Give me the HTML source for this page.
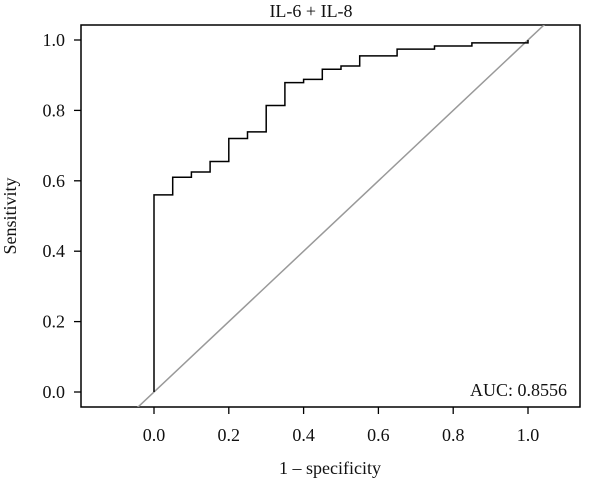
<!DOCTYPE html>
<html><head><meta charset="utf-8"><style>
body{margin:0;background:#fff;}
svg text{font-family:"Liberation Serif",serif;fill:#111;}
</style></head><body>
<svg width="600" height="486" viewBox="0 0 600 486">
<defs><clipPath id="pc"><rect x="81" y="25" width="499" height="382"/></clipPath></defs>
<text x="311" y="17" font-size="18" text-anchor="middle">IL-6 + IL-8</text>
<rect x="81" y="25" width="499" height="382" fill="none" stroke="#000" stroke-width="1.5"/>
<g id="axes"></g>
<line id="diag" stroke="#999" stroke-width="1.5" clip-path="url(#pc)"/>
<path id="roc" fill="none" stroke="#000" stroke-width="1.5"/>
<text x="567" y="392" font-size="18" text-anchor="end" dominant-baseline="middle">AUC: 0.8556</text>
<text x="330" y="474" font-size="18" text-anchor="middle">1 – specificity</text>
<text transform="translate(16,216) rotate(-90)" font-size="18" text-anchor="middle">Sensitivity</text>
</svg>
<script>
const fprSteps=[0,0.05,0.1,0.15,0.2,0.25,0.3,0.35,0.4,0.45,0.5,0.55,0.65,0.75,0.85,1.0];
const tprLevels=[0.56,0.61,0.625,0.655,0.72,0.739,0.814,0.879,0.888,0.917,0.926,0.955,0.974,0.983,0.992,1.0];
const xTicks=[0,0.2,0.4,0.6,0.8,1.0];
const yTicks=[0,0.2,0.4,0.6,0.8,1.0];
const xTickLabels=["0.0","0.2","0.4","0.6","0.8","1.0"];
const yTickLabels=["0.0","0.2","0.4","0.6","0.8","1.0"];
const X=v=>154+v*374, Y=v=>392-v*352;
const ns="http://www.w3.org/2000/svg";
const ax=document.getElementById('axes');
xTicks.forEach((t,i)=>{
  const l=document.createElementNS(ns,'line');
  l.setAttribute('x1',X(t));l.setAttribute('x2',X(t));l.setAttribute('y1',407);l.setAttribute('y2',414);l.setAttribute('stroke','#000');l.setAttribute('stroke-width','1.3');
  
  
  ax.appendChild(l);
  const tx=document.createElementNS(ns,'text');
  tx.setAttribute('x',X(t));tx.setAttribute('y',441);tx.setAttribute('font-size','18');tx.setAttribute('text-anchor','middle');
  tx.textContent=xTickLabels[i];
  
  
  ax.appendChild(tx);
});
yTicks.forEach((t,i)=>{
  const l=document.createElementNS(ns,'line');
  l.setAttribute('x1',74);l.setAttribute('x2',81);l.setAttribute('y1',Y(t));l.setAttribute('y2',Y(t));l.setAttribute('stroke','#000');l.setAttribute('stroke-width','1.3');
  
  
  ax.appendChild(l);
  const tx=document.createElementNS(ns,'text');
  tx.setAttribute('x',65);tx.setAttribute('y',Y(t)+6);tx.setAttribute('font-size','18');tx.setAttribute('text-anchor','end');
  tx.textContent=yTickLabels[i];
  
  
  ax.appendChild(tx);
});
const d=document.getElementById('diag');
d.setAttribute('x1',X(-0.1));d.setAttribute('y1',Y(-0.1));d.setAttribute('x2',X(1.1));d.setAttribute('y2',Y(1.1));
let p='M'+X(0)+','+Y(0);
for(let i=0;i<fprSteps.length;i++){
  p+=' L'+X(fprSteps[i])+','+Y(tprLevels[i]);
  if(i+1<fprSteps.length) p+=' L'+X(fprSteps[i+1])+','+Y(tprLevels[i]);
}
document.getElementById('roc').setAttribute('d',p);
</script>
</body></html>
